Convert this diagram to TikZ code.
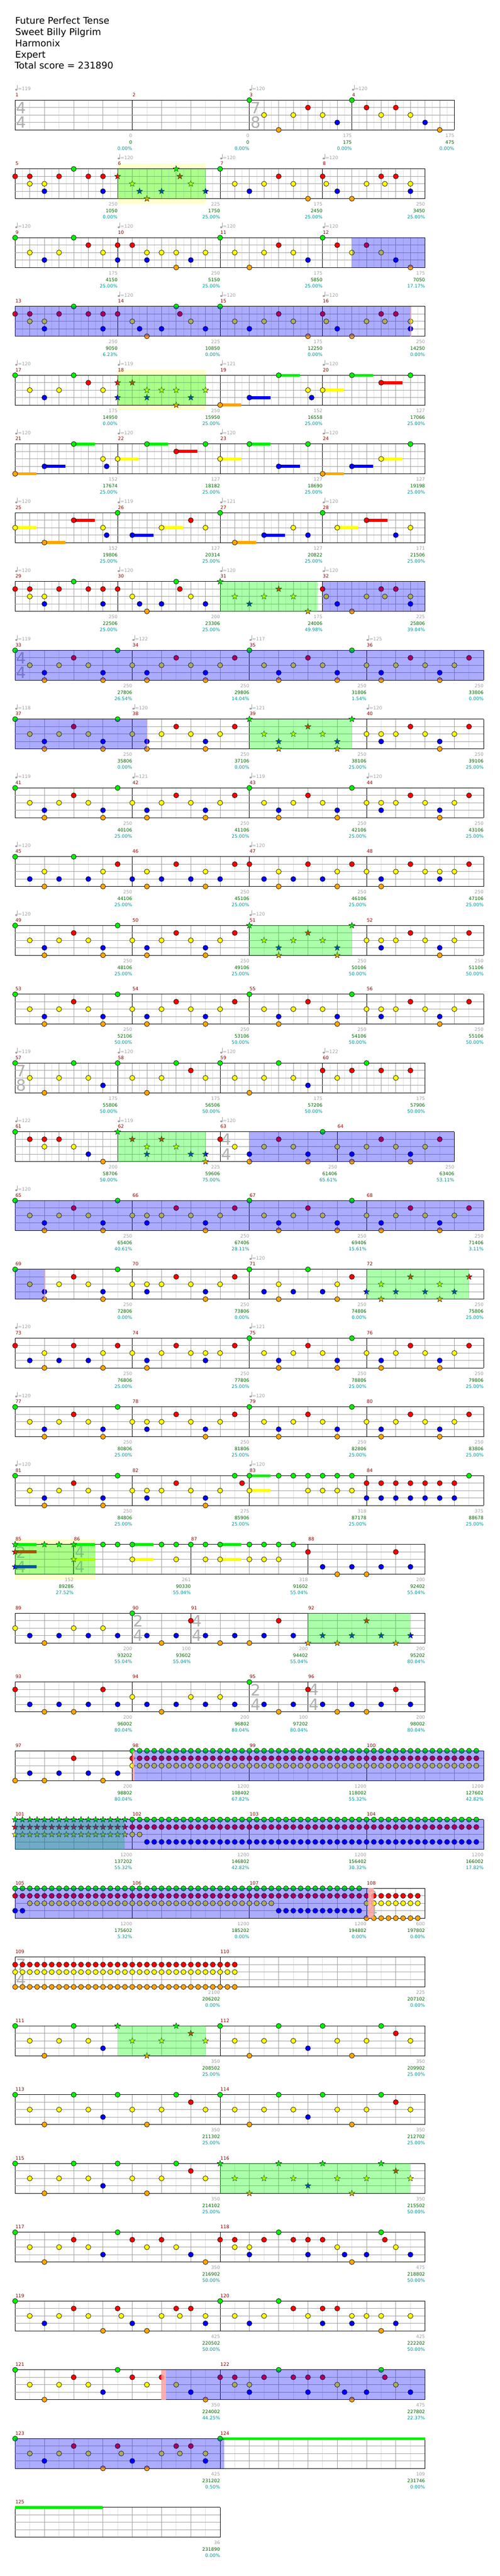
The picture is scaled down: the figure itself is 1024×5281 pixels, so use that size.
\documentclass[tikz,border=0pt]{standalone}
\usepackage{fontspec}
\setmainfont{DejaVu Sans}
\definecolor{nG}{RGB}{0,240,0}
\definecolor{nR}{RGB}{255,0,0}
\definecolor{nY}{RGB}{255,255,0}
\definecolor{nB}{RGB}{0,0,255}
\definecolor{nO}{RGB}{255,165,0}
\definecolor{gridL}{RGB}{222,222,222}
\definecolor{gridD}{RGB}{160,160,160}
\definecolor{txGrey}{RGB}{160,160,160}
\definecolor{txGreen}{RGB}{0,100,0}
\definecolor{txTeal}{RGB}{0,150,150}
\definecolor{txRed}{RGB}{139,0,0}
\definecolor{odGreen}{RGB}{0,255,0}
\definecolor{soloBlue}{RGB}{0,0,255}
\definecolor{paleY}{RGB}{255,255,204}
\definecolor{tsGrey}{RGB}{175,175,175}
\definecolor{pinkL}{RGB}{255,160,160}
\def\laneG{0}\def\laneR{15.25}\def\laneY{30.5}\def\laneB{45.75}\def\laneO{61}
\tikzset{
  lbl/.style={font=\fontsize{9.5}{11}\selectfont, inner sep=0pt},
  tsig/.style={font=\fontsize{32}{34}\selectfont, text=tsGrey, inner sep=0pt},
  hdr/.style={font=\fontsize{19}{23}\selectfont, inner sep=0pt, anchor=base west},
  pics/ostar/.style={code={\filldraw[fill=#1,draw=black,line width=0.5pt]
    (0,-6.5) -- (1.59,-2.18) -- (6.18,-2.01) -- (2.57,0.83) -- (3.82,5.26) -- (0,2.7)
    -- (-3.82,5.26) -- (-2.57,0.83) -- (-6.18,-2.01) -- (-1.59,-2.18) -- cycle;}}
}
\newcommand\Meas[9]{%
  \pgfmathtruncatemacro\dd{2*#3}%
  \pgfmathsetmacro\xe{#1+#2}%
  \draw[gridL,line width=0.8pt] foreach \q in {#4,#3,...,#2} {({#1+\q},0) -- ({#1+\q},61)};%
  \draw[gridD,line width=0.8pt] foreach \q in {#3,\dd,...,#2} {({#1+\q},0) -- ({#1+\q},61)};%
  \draw[black,line width=1pt] (#1,0) -- (#1,61);%
  \node[lbl,text=txRed,anchor=base west] (m#5) at ({#1+0.5},-7.6) {#5};%
  \if\relax\detokenize{#6}\relax\else
    \fill[txGrey] ({#1+2.4},-21.4) ellipse[x radius=2.4,y radius=1.9];%
    \draw[txGrey,line width=0.7pt] ({#1+4.5},-21.4) -- ({#1+4.5},-31);%
    \node[lbl,text=txGrey,anchor=base west] (t#5) at ({#1+5.6},-19.8) {=#6};%
  \fi
  \node[lbl,text=txGrey,anchor=base east] (a#5) at (\xe,76) {#7};%
  \node[lbl,text=txGreen,anchor=base east] (b#5) at (\xe,89.6) {#8};%
  \node[lbl,text=txTeal,anchor=base east] (c#5) at (\xe,102.3) {#9};%
}
\newcommand\RFrame[1]{%
  \draw[gridD,line width=0.8pt] (31,15.25) -- (#1,15.25) (31,30.5) -- (#1,30.5) (31,45.75) -- (#1,45.75);%
  \draw[black,line width=1pt] (31,0) -- (#1,0) (31,61) -- (#1,61) (#1,0) -- (#1,61);}
\newcommand\Nt[2]{\filldraw[fill=n#2,draw=black,line width=0.7pt] ({31+15*(#1)},\csname lane#2\endcsname) circle[radius=5.2];}
\newcommand\St[2]{\pic at ({31+15*(#1)},\csname lane#2\endcsname) {ostar=n#2};}
\newcommand\Su[3]{\fill[n#3] ({31+15*(#1)},{\csname lane#3\endcsname-3}) rectangle ({31+15*(#2)},{\csname lane#3\endcsname+3});}
\newcommand\Ns[1]{\foreach \na/\nb in {#1}{\edef\tmp{\noexpand\Nt{\na}{\nb}}\tmp}}
\newcommand\Ss[1]{\foreach \na/\nb in {#1}{\edef\tmp{\noexpand\St{\na}{\nb}}\tmp}}
\newcommand\OvG[2]{\fill[odGreen,opacity=0.33] (#1,0) rectangle (#2,61);}
\newcommand\OvB[2]{\fill[soloBlue,opacity=0.33] (#1,0) rectangle (#2,61);}
\newcommand\Pale[2]{\fill[paleY] (#1,-10.5) rectangle (#2,71.5);}
\newcommand\Pink[2]{\fill[pinkL,opacity=0.85] (#1,0) rectangle (#2,61);}
\newcommand\TS[3]{\node[tsig] (ts#1x#2) at ({#1+12.5},15.8) {#2};\node[tsig] (ts#1y#3) at ({#1+12.5},45.7) {#3};}
\newcommand\Row[1]{\begin{scope}[shift={(0,{205.3+141*(#1-1)})}]}
\newcommand\ER{\end{scope}}
\newcommand\RA[2][\Nt]{#1{#2}{G}#1{#2+2}{Y}#1{#2+4}{B}#1{#2+4}{O}#1{#2+6}{Y}#1{#2+8}{R}#1{#2+10}{Y}#1{#2+12}{B}#1{#2+12}{O}#1{#2+14}{G}}
\newcommand\RB[2][\Nt]{#1{#2}{Y}#1{#2+2}{B}#1{#2+2}{O}#1{#2+4}{Y}#1{#2+6}{R}#1{#2+8}{Y}#1{#2+10}{B}#1{#2+10}{O}#1{#2+12}{Y}#1{#2+14}{R}}
\newcommand\RC[2][\Nt]{#1{#2}{Y}#1{#2+2}{Y}#1{#2+2}{B}#1{#2+4}{Y}#1{#2+6}{R}#1{#2+8}{Y}#1{#2+10}{B}#1{#2+10}{O}#1{#2+12}{Y}#1{#2+14}{R}}
\newcommand\RSa[2][\Nt]{#1{#2}{G}#1{#2+2}{Y}#1{#2+4}{O}#1{#2+6}{Y}#1{#2+8}{G}#1{#2+10}{Y}#1{#2+12}{B}}
\newcommand\RSb[2][\Nt]{#1{#2}{G}#1{#2+2}{Y}#1{#2+4}{O}#1{#2+6}{Y}#1{#2+8}{G}#1{#2+10}{R}#1{#2+12}{Y}}
\newcommand\PatTwo[2]{%
\Ns{0/R,2/R,2/Y,4/Y,4/B,6/R,8/G,10/R,12/R,12/B}%
#1{14}{R}#1{16}{Y}#1{17}{B}#1{18}{O}#1{20}{B}#1{22}{G}#1{22.5}{R}#1{24}{Y}#1{26}{B}%
#2{28}{G}#2{30}{Y}#2{32}{B}#2{34}{Y}#2{36}{R}#2{38}{Y}#2{40}{O}%
\Ns{42/R,42.5/Y,44/B,46/O,48/Y,50/R,50.5/Y,52/R,54/Y,54/B}}
\newcommand\PatEnd{\Ns{0/G,2/Y,4/O,6/Y,8/R,10/Y,12/B,14/G,16/R,18/Y,20/R,22/Y,24/B,26/O,28/R,30/R,30/Y,32/Y,32/B,34/R,36/G,38/R,40/R,40/B,42/R,44/Y,45/B,46/O,48/B,50/G,50.5/R,52/Y,54/B}}
\newcommand\PatMid{\Ns{0/G,2/Y,4/B,6/Y,8/R,10/Y,12/O,14/R,14.5/Y,16/B,18/O,20/Y,22/R,22.5/Y,24/R,26/Y,26/B}}
\begin{document}
\begin{tikzpicture}[x=1pt,y=-1pt]
\useasboundingbox (0,0) rectangle (1024,5281);
\fill[white] (0,0) rectangle (1024,5281);
\node[hdr] (h1) at (31,49.3) {Future Perfect Tense};
\node[hdr] (h2) at (31,72.3) {Sweet Billy Pilgrim};
\node[hdr] (h3) at (31,95.3) {Harmonix};
\node[hdr] (h4) at (31,118.3) {Expert};
\node[hdr] (h5) at (30,141.3) {Total score = 231890};
% ---------- row 1
\Row{1}
\Meas{31}{240}{60}{30}{1}{119}{0}{0}{0.00\%}
\Meas{271}{240}{60}{30}{2}{}{0}{0}{0.00\%}
\Meas{511}{210}{30}{15}{3}{120}{175}{175}{0.00\%}
\Meas{721}{210}{30}{15}{4}{120}{175}{475}{0.00\%}
\RFrame{931}
\TS{31}{4}{4}\TS{511}{7}{8}
\Ns{32/G,34/Y,36/O,38/Y,40/R,42/Y,44/B,46/G,48/R,50/Y,52/R,54/Y,56/B,58/O}
\ER
% ---------- row 2
\Row{2}
\Pale{241}{421}
\Meas{31}{210}{30}{15}{5}{}{250}{1050}{0.00\%}
\Meas{241}{210}{30}{15}{6}{120}{225}{1750}{25.00\%}
\Meas{451}{210}{30}{15}{7}{120}{175}{2450}{25.00\%}
\Meas{661}{210}{30}{15}{8}{120}{250}{3450}{25.00\%}
\RFrame{871}
\PatTwo{\St}{\Nt}
\OvG{241}{421}
\ER
% ---------- row 3
\Row{3}
\Meas{31}{210}{30}{15}{9}{120}{175}{4150}{25.00\%}
\Meas{241}{210}{30}{15}{10}{120}{250}{5150}{25.00\%}
\Meas{451}{210}{30}{15}{11}{120}{175}{5850}{25.00\%}
\Meas{661}{210}{30}{15}{12}{120}{175}{7050}{17.17\%}
\RFrame{871}
\Ns{0/G,2/Y,4/B,6/Y,8/G,10/R,12/Y,14/R,14/B,16/R,18/Y,18/B,20/Y,22/Y,22/O,24/B,26/Y,28/G,30/Y,32/O,34/Y,36/R,38/Y,40/B,42/G,44/R,46/Y,48/R,50/Y,52/B,54/O}
\OvB{721}{871}
\ER
% ---------- row 4
\Row{4}
\Meas{31}{210}{30}{15}{13}{}{250}{9050}{6.23\%}
\Meas{241}{210}{30}{15}{14}{120}{225}{10850}{0.00\%}
\Meas{451}{210}{30}{15}{15}{120}{175}{12250}{0.00\%}
\Meas{661}{210}{30}{15}{16}{120}{250}{14250}{0.00\%}
\RFrame{871}
\PatTwo{\Nt}{\Nt}
\OvB{31}{841}\Pink{840.5}{842.5}
\ER
% ---------- row 5
\Row{5}
\Pale{241}{421}
\Meas{31}{210}{30}{15}{17}{120}{175}{14950}{0.00\%}
\Meas{241}{210}{30}{15}{18}{119}{250}{15950}{25.00\%}
\Meas{451}{210}{30}{15}{19}{121}{152}{16558}{25.00\%}
\Meas{661}{210}{30}{15}{20}{120}{127}{17066}{25.00\%}
\RFrame{871}
\Ns{0/G,2/Y,4/B,6/Y,8/G,10/R,12/Y}
\Ss{14/R,14/B,16/R,18/Y,18/B,20/Y,22/Y,22/O,24/B,26/Y}
\Su{28}{30.9}{O}\Su{32}{34.9}{B}\Su{36}{38.9}{G}\Su{42}{44.9}{Y}\Su{46}{48.9}{G}\Su{50}{52.9}{R}
\Ns{28/O,32/B,36/G,40/Y,40.5/B,42/Y,46/G,50/R,54/G}
\OvG{241}{421}
\ER
% ---------- row 6
\Row{6}
\Meas{31}{210}{30}{15}{21}{120}{152}{17674}{25.00\%}
\Meas{241}{210}{30}{15}{22}{120}{127}{18182}{25.00\%}
\Meas{451}{210}{30}{15}{23}{120}{127}{18690}{25.00\%}
\Meas{661}{210}{30}{15}{24}{120}{127}{19198}{25.00\%}
\RFrame{871}
\Su{0}{2.9}{O}\Su{4}{6.9}{B}\Su{8}{10.9}{G}\Su{14}{16.9}{Y}\Su{18}{20.9}{G}\Su{22}{24.9}{R}\Su{28}{30.9}{Y}\Su{32}{34.9}{G}\Su{36}{38.9}{B}\Su{42}{44.9}{O}\Su{46}{48.9}{B}\Su{50}{52.9}{Y}
\Ns{0/O,4/B,8/G,12/Y,12.5/B,14/Y,18/G,22/R,26/G,28/Y,32/G,36/B,40/G,42/O,46/B,50/Y,54/G}
\ER
% ---------- row 7
\Row{7}
\Meas{31}{210}{30}{15}{25}{120}{152}{19806}{25.00\%}
\Meas{241}{210}{30}{15}{26}{119}{127}{20314}{25.00\%}
\Meas{451}{210}{30}{15}{27}{121}{127}{20822}{25.00\%}
\Meas{661}{210}{30}{15}{28}{120}{171}{21506}{25.00\%}
\RFrame{871}
\Su{0}{2.9}{Y}\Su{4}{6.9}{O}\Su{8}{10.9}{R}\Su{16}{18.9}{B}\Su{20}{22.9}{Y}\Su{30}{32.9}{O}\Su{34}{36.9}{B}\Su{44}{46.9}{Y}\Su{48}{50.9}{R}
\Ns{0/Y,4/O,8/R,12/Y,12.5/B,14/G,16/B,20/Y,24/R,26/Y,28/G,30/O,34/B,38/Y,40/B,42/G,44/Y,48/R,52/B,54/Y}
\ER
% ---------- row 8
\Row{8}
\Meas{31}{210}{30}{15}{29}{120}{250}{22506}{25.00\%}
\Meas{241}{210}{30}{15}{30}{120}{200}{23306}{25.00\%}
\Meas{451}{210}{30}{15}{31}{120}{175}{24006}{49.98\%}
\Meas{661}{210}{30}{15}{32}{120}{225}{25806}{39.04\%}
\RFrame{871}
\PatTwo{\Nt}{\St}
\OvG{451}{651}\OvB{661}{871}
\ER
% ---------- row 9
\Row{9}
\Meas{31}{240}{60}{30}{33}{119}{250}{27806}{26.54\%}
\Meas{271}{240}{60}{30}{34}{122}{250}{29806}{14.04\%}
\Meas{511}{240}{60}{30}{35}{117}{250}{31806}{1.54\%}
\Meas{751}{240}{60}{30}{36}{125}{250}{33806}{0.00\%}
\RFrame{991}
\TS{31}{4}{4}
\RA{0}\RB{16}\RA{32}\RB{48}
\OvB{31}{991}
\ER
% ---------- row 10
\Row{10}
\Meas{31}{240}{60}{30}{37}{118}{250}{35806}{0.00\%}
\Meas{271}{240}{60}{30}{38}{120}{250}{37106}{0.00\%}
\Meas{511}{240}{60}{30}{39}{121}{250}{38106}{25.00\%}
\Meas{751}{240}{60}{30}{40}{120}{250}{39106}{25.00\%}
\RFrame{991}
\RA{0}\RB{16}\RA[\St]{32}\RC{48}
\OvB{31}{301}\Pink{300.5}{302.5}\OvG{511}{721}
\ER
% ---------- row 11
\Row{11}
\Meas{31}{240}{60}{30}{41}{119}{250}{40106}{25.00\%}
\Meas{271}{240}{60}{30}{42}{121}{250}{41106}{25.00\%}
\Meas{511}{240}{60}{30}{43}{119}{250}{42106}{25.00\%}
\Meas{751}{240}{60}{30}{44}{120}{250}{43106}{25.00\%}
\RFrame{991}
\RA{0}\RB{16}\RA{32}\RC{48}
\ER
% ---------- row 12
\Row{12}
\Meas{31}{240}{60}{30}{45}{120}{250}{44106}{25.00\%}
\Meas{271}{240}{60}{30}{46}{}{250}{45106}{25.00\%}
\Meas{511}{240}{60}{30}{47}{120}{250}{46106}{25.00\%}
\Meas{751}{240}{60}{30}{48}{}{250}{47106}{25.00\%}
\RFrame{991}
\Ns{0/G,2/B,4/Y,4/O,6/B,8/G,10/B,12/Y,12/O,14/R,16/B,18/Y,18/O,20/B,22/R,24/B,26/Y,26/O,28/B,30/R,32/R,34/B,36/Y,36/O,38/B,40/R,42/B,44/Y,44/O,46/R,48/Y,50/B,50/O,52/Y,54/R,56/Y,58/Y,58/B,60/Y,62/R}
\ER
% ---------- row 13
\Row{13}
\Meas{31}{240}{60}{30}{49}{120}{250}{48106}{25.00\%}
\Meas{271}{240}{60}{30}{50}{}{250}{49106}{25.00\%}
\Meas{511}{240}{60}{30}{51}{120}{250}{50106}{50.00\%}
\Meas{751}{240}{60}{30}{52}{}{250}{51106}{50.00\%}
\RFrame{991}
\RA{0}\RB{16}\RA[\St]{32}\RC{48}
\OvG{511}{721}
\ER
% ---------- row 14
\Row{14}
\Meas{31}{240}{60}{30}{53}{}{250}{52106}{50.00\%}
\Meas{271}{240}{60}{30}{54}{}{250}{53106}{50.00\%}
\Meas{511}{240}{60}{30}{55}{}{250}{54106}{50.00\%}
\Meas{751}{240}{60}{30}{56}{}{250}{55106}{50.00\%}
\RFrame{991}
\RA{0}\RB{16}\RA{32}\RC{48}
\ER
% ---------- row 15
\Row{15}
\Meas{31}{210}{30}{15}{57}{119}{175}{55806}{50.00\%}
\Meas{241}{210}{30}{15}{58}{120}{175}{56506}{50.00\%}
\Meas{451}{210}{30}{15}{59}{120}{175}{57206}{50.00\%}
\Meas{661}{210}{30}{15}{60}{122}{175}{57906}{50.00\%}
\RFrame{871}
\TS{31}{7}{8}
\Ns{0/G,2/Y,4/O,6/Y,8/G,10/Y,12/B,14/G,16/Y,18/O,20/Y,22/G,24/R,26/Y,28/G,30/Y,32/O,34/Y,36/G,38/Y,40/B,42/R,44/Y,46/R,48/G,50/R,52/Y,54/R}
\ER
% ---------- row 16
\Row{16}
\Meas{31}{210}{30}{15}{61}{122}{200}{58706}{50.00\%}
\Meas{241}{210}{30}{15}{62}{119}{225}{59606}{75.00\%}
\Meas{451}{240}{60}{30}{63}{120}{250}{61406}{65.61\%}
\Meas{691}{240}{60}{30}{64}{}{250}{63406}{53.11\%}
\RFrame{931}
\TS{451}{4}{4}
\Ns{0/G,2/R,4/R,4/Y,6/R,8/Y,10/B,12/O}
\Ss{14/G,16/R,18/Y,18/B,20/R,22/Y,24/B,26/B,26/O}
\Ns{28/R,30/Y,32/B,32/O,34/Y,36/R,38/Y,40/B,40/O,42/G,44/Y,46/B,46/O,48/Y,50/R,52/Y,54/B,54/O,56/Y,58/R}
\OvG{241}{421}\OvB{511}{931}
\ER
% ---------- row 17
\Row{17}
\Meas{31}{240}{60}{30}{65}{120}{250}{65406}{40.61\%}
\Meas{271}{240}{60}{30}{66}{}{250}{67406}{28.11\%}
\Meas{511}{240}{60}{30}{67}{}{250}{69406}{15.61\%}
\Meas{751}{240}{60}{30}{68}{}{250}{71406}{3.11\%}
\RFrame{991}
\RA{0}\RC{16}\RA{32}\RB{48}
\OvB{31}{991}
\ER
% ---------- row 18
\Row{18}
\Meas{31}{240}{60}{30}{69}{}{250}{72806}{0.00\%}
\Meas{271}{240}{60}{30}{70}{}{250}{73806}{0.00\%}
\Meas{511}{240}{60}{30}{71}{120}{250}{74806}{0.00\%}
\Meas{751}{240}{60}{30}{72}{}{250}{75806}{25.00\%}
\RFrame{991}
\RA{0}\RC{16}
\Ns{32/G,34/B,36/Y,36/O,38/B,40/G,42/B,44/Y,44/O,46/R}
\Ss{48/B,50/Y,50/O,52/B,54/R,56/B,58/Y,58/O,60/B,62/R}
\OvB{31}{91}\Pink{90.5}{92.5}\OvG{751}{961}
\ER
% ---------- row 19
\Row{19}
\Meas{31}{240}{60}{30}{73}{120}{250}{76806}{25.00\%}
\Meas{271}{240}{60}{30}{74}{}{250}{77806}{25.00\%}
\Meas{511}{240}{60}{30}{75}{121}{250}{78806}{25.00\%}
\Meas{751}{240}{60}{30}{76}{}{250}{79806}{25.00\%}
\RFrame{991}
\Ns{0/R,2/B,4/Y,4/O,6/B,8/R,10/B,12/Y,12/O,14/R,16/Y,18/B,18/O,20/Y,22/R,24/Y,26/Y,26/B,28/Y,30/R}
\RA{32}\RB{48}
\ER
% ---------- row 20
\Row{20}
\Meas{31}{240}{60}{30}{77}{120}{250}{80806}{25.00\%}
\Meas{271}{240}{60}{30}{78}{}{250}{81806}{25.00\%}
\Meas{511}{240}{60}{30}{79}{120}{250}{82806}{25.00\%}
\Meas{751}{240}{60}{30}{80}{}{250}{83806}{25.00\%}
\RFrame{991}
\RA{0}\RC{16}\RA{32}\RB{48}
\ER
% ---------- row 21
\Row{21}
\Meas{31}{240}{60}{30}{81}{120}{250}{84806}{25.00\%}
\Meas{271}{240}{60}{30}{82}{}{275}{85906}{25.00\%}
\Meas{511}{240}{60}{30}{83}{120}{318}{87178}{25.00\%}
\Meas{751}{240}{60}{30}{84}{}{375}{88678}{25.00\%}
\RFrame{991}
\RA{0}
\Ns{16/Y,18/Y,18/B,20/Y,22/R,24/Y,26/B,26/O,28/Y,30/G,31/R}
\Su{32}{34.9}{G}\Su{32}{34.9}{Y}
\Ns{32/G,32/Y,36/G,38/G,40/G,40/Y,42/G,42/Y,44/G,44/Y,46/G,46/Y}
\Ns{48/R,48/B,50/R,50/B,52/R,52/B,54/R,54/B,56/R,56/B,58/R,58/B,60/R,60/B,62/G}
\ER
% ---------- row 22
\Row{22}
\Pale{31}{195}
\Meas{31}{120}{60}{30}{85}{}{152}{89286}{27.52\%}
\Meas{151}{240}{60}{30}{86}{}{261}{90330}{55.04\%}
\Meas{391}{240}{60}{30}{87}{}{318}{91602}{55.04\%}
\Meas{631}{240}{60}{30}{88}{}{200}{92402}{55.04\%}
\RFrame{871}
\TS{31}{2}{4}\TS{151}{4}{4}
\Su{0}{2.9}{G}\Su{0}{2.9}{R}\Su{0}{2.9}{B}\Su{8}{10.9}{G}\Su{8}{10.9}{Y}\Su{16}{18.9}{G}\Su{16}{18.9}{Y}\Su{28}{30.9}{G}\Su{28}{30.9}{Y}
\Ss{0/G,0/R,0/B,4/G,6/G,8/G,8/Y}
\Ns{12/G,14/G,16/G,16/Y,20/G,22/G,22/Y,24/G,26/G,26/Y,28/G,28/Y,32/G,32/Y,34/G,34/Y,36/G,36/Y,38/G}
\Ns{40/R,42/B,44/O,46/B,48/O,50/B,52/R,54/B}
\OvG{31}{195}
\ER
% ---------- row 23
\Row{23}
\Meas{31}{240}{60}{30}{89}{}{200}{93202}{55.04\%}
\Meas{271}{120}{60}{30}{90}{}{100}{93602}{55.04\%}
\Meas{391}{240}{60}{30}{91}{}{200}{94402}{55.04\%}
\Meas{631}{240}{60}{30}{92}{}{200}{95202}{80.04\%}
\RFrame{871}
\TS{271}{2}{4}\TS{391}{4}{4}
\Ns{0/Y,2/B,4/O,6/B,8/Y,10/B,12/Y,14/B,16/G,18/B,20/O,22/B,24/R,26/B,28/O,30/B,32/O,34/B,36/R,38/B}
\Ss{40/O,42/B,44/O,46/B,48/R,50/B,52/O,54/B}
\OvG{631}{841}
\ER
% ---------- row 24
\Row{24}
\Meas{31}{240}{60}{30}{93}{}{200}{96002}{80.04\%}
\Meas{271}{240}{60}{30}{94}{}{200}{96802}{80.04\%}
\Meas{511}{120}{60}{30}{95}{}{100}{97202}{80.04\%}
\Meas{631}{240}{60}{30}{96}{}{200}{98002}{80.04\%}
\RFrame{871}
\TS{511}{2}{4}\TS{631}{4}{4}
\Ns{0/R,2/B,4/O,6/B,8/O,10/B,12/R,14/B,16/Y,18/B,20/O,22/B,24/Y,26/B,28/Y,30/B,32/G,34/B,36/O,38/B,40/R,42/B,44/O,46/B,48/O,50/B,52/R,54/B}
\ER
% ---------- row 25
\Row{25}
\Meas{31}{240}{60}{30}{97}{}{200}{98802}{80.04\%}
\Meas{271}{240}{60}{30}{98}{}{1200}{108402}{67.82\%}
\Meas{511}{240}{60}{30}{99}{}{1200}{118002}{55.32\%}
\Meas{751}{240}{60}{30}{100}{}{1200}{127602}{42.82\%}
\RFrame{991}
\Ns{0/O,2/B,4/O,6/B,8/R,10/B,12/O,14/B}
\foreach \i in {16,...,63}{\Nt{\i}{G}\Nt{\i}{R}\Nt{\i}{Y}}
\Pink{271}{276}\OvB{276}{991}
\ER
% ---------- row 26
\Row{26}
\Meas{31}{240}{60}{30}{101}{}{1200}{137202}{55.32\%}
\Meas{271}{240}{60}{30}{102}{}{1200}{146802}{42.82\%}
\Meas{511}{240}{60}{30}{103}{}{1200}{156402}{30.32\%}
\Meas{751}{240}{60}{30}{104}{}{1200}{166002}{17.82\%}
\RFrame{991}
\foreach \i in {0,...,15}{\St{\i}{G}\St{\i}{R}\St{\i}{Y}}
\foreach \i in {16,...,63}{\Nt{\i}{G}\Nt{\i}{R}}
\Ns{16/Y,17/Y}
\foreach \i in {18,...,63}{\Nt{\i}{B}}
\OvG{31}{256}\OvB{31}{991}
\ER
% ---------- row 27
\Row{27}
\Meas{31}{240}{60}{30}{105}{}{1200}{175602}{5.32\%}
\Meas{271}{240}{60}{30}{106}{}{1200}{185202}{0.00\%}
\Meas{511}{240}{60}{30}{107}{}{1200}{194802}{0.00\%}
\Meas{751}{120}{60}{30}{108}{}{600}{197802}{0.00\%}
\RFrame{871}
\TS{751}{2}{4}
\foreach \i in {0,...,47}{\Nt{\i}{G}\Nt{\i}{R}}
\foreach \i in {2,...,35}{\Nt{\i}{Y}}
\Ns{0/B,1/B}
\foreach \i in {36,...,47}{\Nt{\i}{B}}
\foreach \i in {48,...,55}{\Nt{\i}{R}\Nt{\i}{Y}\Nt{\i}{O}}
\OvB{31}{754}\Pink{754}{766}
\ER
% ---------- row 28
\Row{28}
\Meas{31}{420}{60}{30}{109}{}{2100}{206202}{0.00\%}
\Meas{451}{420}{60}{30}{110}{}{225}{207102}{0.00\%}
\RFrame{871}
\TS{31}{7}{4}
\foreach \i in {0,...,30}{\Nt{\i}{R}\Nt{\i}{Y}\Nt{\i}{O}}
\ER
% ---------- row 29
\Row{29}
\Meas{31}{420}{60}{30}{111}{}{350}{208502}{25.00\%}
\Meas{451}{420}{60}{30}{112}{}{350}{209902}{25.00\%}
\RFrame{871}
\RSa{0}\RSb[\St]{14}\RSa{28}\RSb{42}
\OvG{241}{421}
\ER
% ---------- row 30
\Row{30}
\Meas{31}{420}{60}{30}{113}{}{350}{211302}{25.00\%}
\Meas{451}{420}{60}{30}{114}{}{350}{212702}{25.00\%}
\RFrame{871}
\RSa{0}\RSb{14}\RSa{28}\RSb{42}
\ER
% ---------- row 31
\Row{31}
\Meas{31}{420}{60}{30}{115}{}{350}{214102}{25.00\%}
\Meas{451}{420}{60}{30}{116}{}{350}{215502}{50.00\%}
\RFrame{871}
\RSa{0}\RSb{14}\RSa[\St]{28}\RSb[\St]{42}
\OvG{451}{841}
\ER
% ---------- row 32
\Row{32}
\Meas{31}{420}{60}{30}{117}{}{350}{216902}{50.00\%}
\Meas{451}{420}{60}{30}{118}{}{475}{218802}{50.00\%}
\RFrame{871}
\PatEnd
\ER
% ---------- row 33
\Row{33}
\Meas{31}{420}{60}{30}{119}{}{425}{220502}{50.00\%}
\Meas{451}{420}{60}{30}{120}{}{425}{222202}{50.00\%}
\RFrame{871}
\PatMid
\Ns{28/G,30/Y,32/B,34/Y,36/G,38/R,40/Y,42/R,42/B,44/R,46/Y,46/B,48/Y,50/Y,50/O,52/B,54/Y}
\ER
% ---------- row 34
\Row{34}
\Meas{31}{420}{60}{30}{121}{}{350}{224002}{44.25\%}
\Meas{451}{420}{60}{30}{122}{}{475}{227802}{22.37\%}
\RFrame{871}
\PatEnd
\Pink{331}{340}\OvB{340}{871}
\ER
% ---------- row 35
\Row{35}
\Meas{31}{420}{60}{30}{123}{}{425}{231202}{0.50\%}
\Meas{451}{420}{60}{30}{124}{}{109}{231746}{0.00\%}
\RFrame{871}
\PatMid
\Su{28}{56}{G}
\Nt{28}{G}
\OvB{31}{459}
\ER
% ---------- row 36
\Row{36}
\Meas{31}{420}{60}{30}{125}{}{36}{231890}{0.00\%}
\RFrame{451}
\Su{0}{11.93}{G}
\ER
\end{tikzpicture}
\end{document}
